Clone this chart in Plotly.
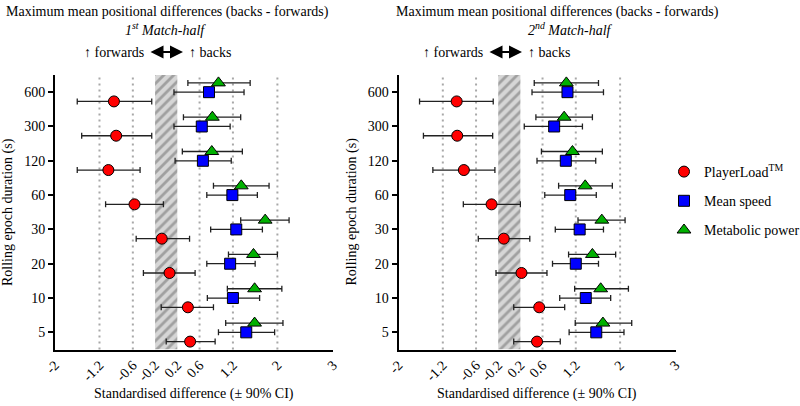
import plotly.graph_objects as go

# ---------------- data ----------------
epochs = ["5", "10", "20", "30", "60", "120", "300", "600"]
x_ticks = [-2, -1.2, -0.6, -0.2, 0.2, 0.6, 1.2, 2, 3]
x_tick_text = ["-2", "-1.2", "-0.6", "-0.2", "0.2", "0.6", "1.2", "2", "3"]

# 1st half
h1_pl = [0.43, 0.39, 0.06, -0.08, -0.57, -1.04, -0.90, -0.94]
h1_pl_lo = [0.00, -0.09, -0.41, -0.54, -1.09, -1.60, -1.52, -1.60]
h1_pl_hi = [0.88, 0.85, 0.52, 0.42, -0.05, -0.47, -0.26, -0.26]
h1_ms = [1.44, 1.20, 1.15, 1.26, 1.19, 0.66, 0.64, 0.77]
h1_ms_lo = [0.94, 0.74, 0.73, 0.80, 0.73, 0.16, 0.14, 0.14]
h1_ms_hi = [1.95, 1.68, 1.60, 1.73, 1.64, 1.17, 1.15, 1.40]
h1_mp = [1.59, 1.59, 1.57, 1.78, 1.35, 0.82, 0.83, 0.94]
h1_mp_lo = [1.07, 1.10, 1.12, 1.34, 0.85, 0.29, 0.31, 0.39]
h1_mp_hi = [2.10, 2.08, 2.00, 2.21, 1.85, 1.37, 1.34, 1.51]

# 2nd half
h2_pl = [0.50, 0.54, 0.22, -0.10, -0.32, -0.82, -0.94, -0.95]
h2_pl_lo = [0.08, 0.08, -0.24, -0.56, -0.83, -1.38, -1.55, -1.62]
h2_pl_hi = [0.92, 1.00, 0.68, 0.37, 0.20, -0.26, -0.30, -0.29]
h2_ms = [1.57, 1.38, 1.20, 1.27, 1.10, 1.02, 0.81, 1.05]
h2_ms_lo = [1.08, 0.91, 0.78, 0.83, 0.64, 0.50, 0.27, 0.41]
h2_ms_hi = [2.07, 1.83, 1.61, 1.70, 1.57, 1.56, 1.32, 1.70]
h2_mp = [1.69, 1.65, 1.50, 1.67, 1.37, 1.14, 0.99, 1.03]
h2_mp_lo = [1.19, 1.18, 1.07, 1.24, 0.89, 0.58, 0.48, 0.45]
h2_mp_hi = [2.21, 2.15, 1.92, 2.09, 1.86, 1.68, 1.50, 1.61]

series_names = ["PlayerLoad<sup>TM</sup>", "Mean speed", "Metabolic power"]
trivial = 0.2
grid_vals = [-1.2, -0.6, 0.6, 1.2, 2]

# ---------------- styling ----------------
FONT = "Times New Roman, Liberation Serif, Tinos, DejaVu Serif, serif"
styles = [
    dict(symbol="circle", color="#ff0000", size=11, off=-0.27),
    dict(symbol="square", color="#0000ff", size=11, off=0.0),
    dict(symbol="triangle-up", color="#00b000", size=12, off=0.27),
]

fig = go.Figure()

halves = [
    ("x", "y", [(h1_pl, h1_pl_lo, h1_pl_hi), (h1_ms, h1_ms_lo, h1_ms_hi), (h1_mp, h1_mp_lo, h1_mp_hi)]),
    ("x2", "y2", [(h2_pl, h2_pl_lo, h2_pl_hi), (h2_ms, h2_ms_lo, h2_ms_hi), (h2_mp, h2_mp_lo, h2_mp_hi)]),
]

idx = list(range(len(epochs)))

for hi_i, (xa, ya, sers) in enumerate(halves):
    fig.add_trace(go.Bar(
        x=[0], y=[len(epochs)], base=[-0.5], width=[2 * trivial],
        xaxis=xa, yaxis=ya, showlegend=False, hoverinfo="skip",
        marker=dict(color="#d6d6d6", line=dict(width=0),
                    pattern=dict(shape="/", bgcolor="#d6d6d6", fgcolor="#a0a0a0",
                                 size=7, solidity=0.4)),
    ))
    for s_i, (vals, lo, hi) in enumerate(sers):
        st = styles[s_i]
        fig.add_trace(go.Scatter(
            x=vals, y=[i + st["off"] for i in idx],
            xaxis=xa, yaxis=ya, mode="markers",
            name=series_names[s_i], legendgroup=f"g{s_i}",
            showlegend=(hi_i == 0),
            marker=dict(symbol=st["symbol"], color=st["color"], size=st["size"],
                        line=dict(color="#000000", width=1)),
            error_x=dict(type="data", symmetric=False,
                         array=[h - v for h, v in zip(hi, vals)],
                         arrayminus=[v - l for v, l in zip(vals, lo)],
                         color="#222222", thickness=1.3, width=3),
        ))
    for g in grid_vals:
        fig.add_shape(type="line", xref=xa, yref=f"{ya} domain", x0=g, x1=g, y0=0, y1=1,
                      line=dict(color="#a8a8a8", width=2, dash="2px,4px"), layer="below")

ax_common = dict(range=[-2, 3], tickvals=x_ticks, ticktext=x_tick_text, tickangle=-45,
                 showline=True, linecolor="black", linewidth=2, ticks="",
                 showgrid=False, zeroline=False, automargin=False,
                 tickfont=dict(family=FONT, size=14, color="black"))
ay_common = dict(range=[-0.5, 7.5], tickvals=idx, ticktext=epochs,
                 showline=True, linecolor="black", linewidth=2, ticks="outside",
                 ticklen=5, tickwidth=1.5, tickcolor="black",
                 showgrid=False, zeroline=False, automargin=False,
                 tickfont=dict(family=FONT, size=14, color="black"))

y_dom = [1 - 349.5 / 406, 1 - 75 / 406]
fig.update_layout(
    template="none",
    width=800, height=406,
    margin=dict(l=0, r=0, t=0, b=0, autoexpand=False),
    paper_bgcolor="white", plot_bgcolor="white",
    font=dict(family=FONT, color="black"),
    xaxis=dict(domain=[55 / 800, 333 / 800], anchor="y", **ax_common),
    yaxis=dict(domain=y_dom, anchor="x", **ay_common),
    xaxis2=dict(domain=[398.5 / 800, 675.5 / 800], anchor="y2", **ax_common),
    yaxis2=dict(domain=y_dom, anchor="x2", **ay_common),
    barmode="overlay",
    legend=dict(x=0.83, y=1 - 156 / 406, xanchor="left", yanchor="top",
                font=dict(family=FONT, size=14, color="black"),
                tracegroupgap=8, bgcolor="rgba(0,0,0,0)"),
)


def t(size):
    return dict(family=FONT, size=size, color="black")


ann = []
# (panel left, panel right, subtitle, title centre px, subtitle centre px, arrow centre px)
panels = [(55, 333, "1<sup>st</sup> Match-half", 167, 165, 166),
          (398.5, 675.5, "2<sup>nd</sup> Match-half", 557, 570, 505)]
for left, right, sub, tc, sc, ac in panels:
    ann.append(dict(text="Maximum mean positional differences (backs - forwards)",
                    x=tc / 800, y=1 - 12 / 406, xref="paper", yref="paper",
                    showarrow=False, font=t(14), xanchor="center", yanchor="middle"))
    ann.append(dict(text=f"<i>{sub}</i>", x=sc / 800, y=1 - 29 / 406,
                    xref="paper", yref="paper", showarrow=False, font=t(14),
                    xanchor="center", yanchor="middle"))
    ann.append(dict(text="↑ forwards", x=(ac - 20) / 800, y=1 - 52 / 406, xref="paper",
                    yref="paper", showarrow=False, font=t(14),
                    xanchor="right", yanchor="middle"))
    ann.append(dict(text="↑ backs", x=(ac + 21) / 800, y=1 - 52 / 406, xref="paper",
                    yref="paper", showarrow=False, font=t(14),
                    xanchor="left", yanchor="middle"))
    ann.append(dict(text="", x=(ac + 17) / 800, y=1 - 52 / 406, xref="paper", yref="paper",
                    ax=-34, ay=0, showarrow=True, arrowside="end+start", arrowhead=2,
                    arrowsize=1.3, arrowwidth=2, arrowcolor="black"))
    ann.append(dict(text="Standardised difference (± 90% CI)", x=(left + right) / 2 / 800,
                    y=1 - 394 / 406, xref="paper", yref="paper", showarrow=False,
                    font=t(14), xanchor="center", yanchor="middle"))
    ann.append(dict(text="Rolling epoch duration (s)", x=(left - 47) / 800,
                    y=1 - 212 / 406, xref="paper", yref="paper", showarrow=False,
                    textangle=-90, font=t(14), xanchor="center", yanchor="middle"))

fig.update_layout(annotations=ann)
fig.write_html("out.html", config={"displayModeBar": False},
               post_script="document.body.style.margin='0';")
